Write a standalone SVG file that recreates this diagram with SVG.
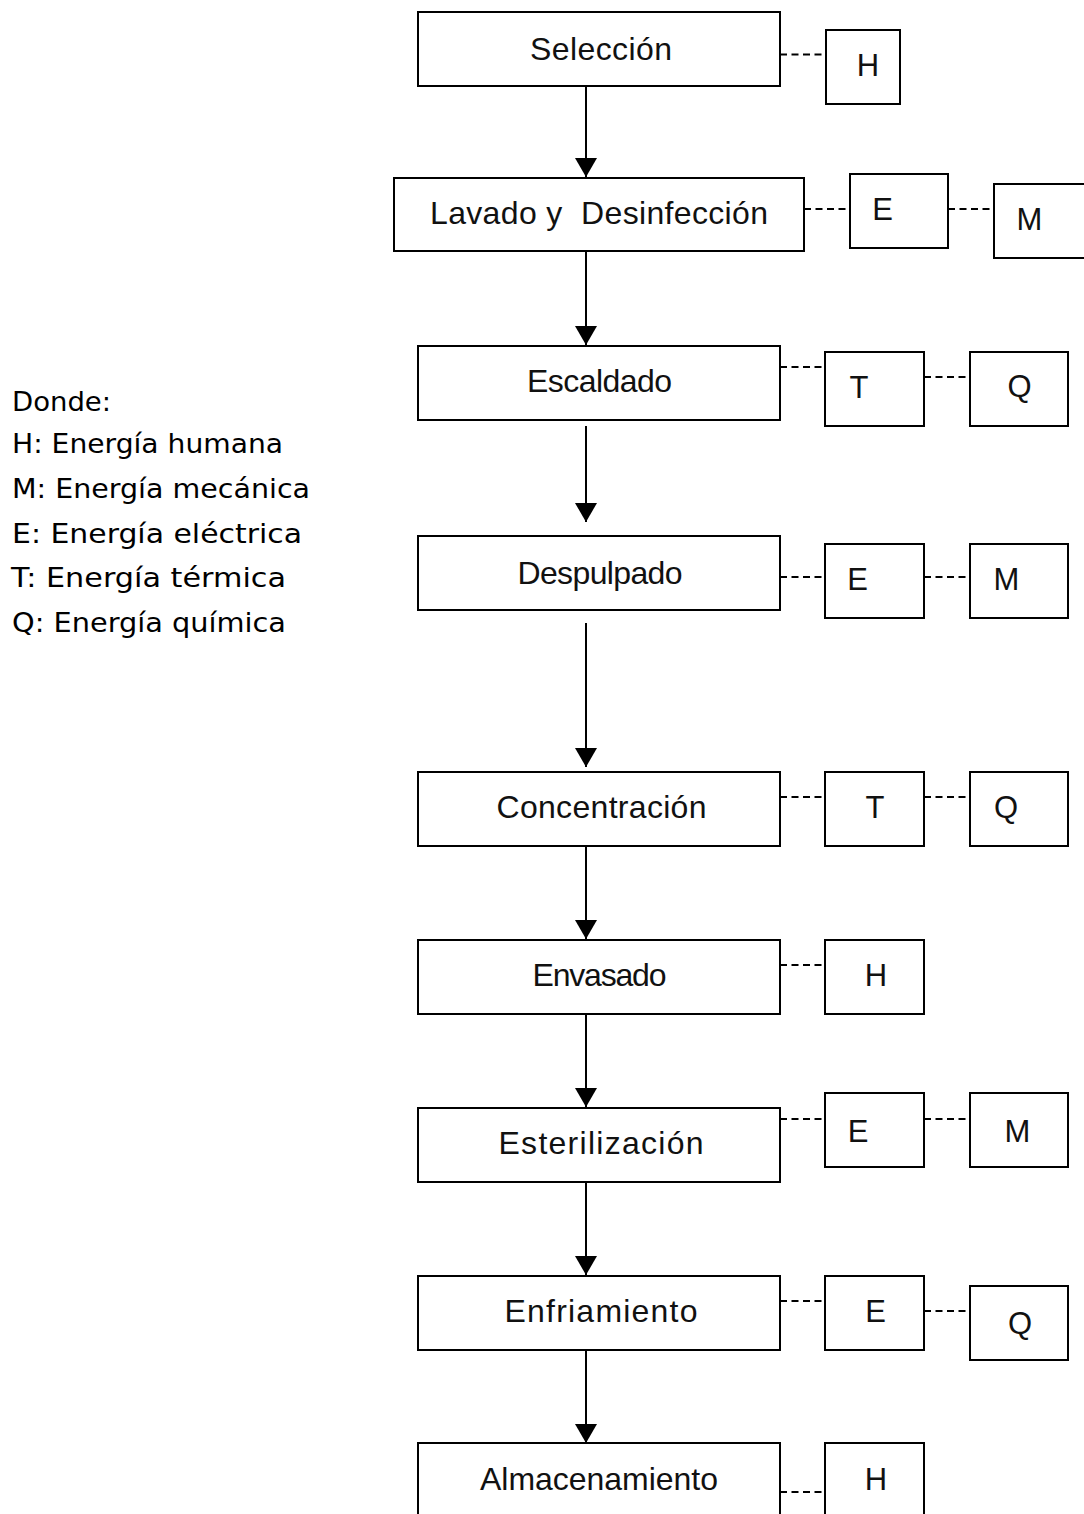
<svg xmlns="http://www.w3.org/2000/svg" width="1084" height="1514" viewBox="0 0 1084 1514">
  <style>
    .box { fill: #fff; stroke: #000; stroke-width: 2; }
    .step { font-family: "Liberation Sans", Arial, sans-serif; font-size: 32px; fill: #111; text-anchor: middle; }
    .tag { font-family: "Liberation Sans", Arial, sans-serif; font-size: 31px; fill: #111; text-anchor: middle; }
    .legend { font-family: "DejaVu Sans", "Liberation Sans", sans-serif; font-size: 26.5px; fill: #000; }
    .flow { stroke: #000; stroke-width: 2; fill: none; marker-end: url(#arrow); }
    .link { stroke: #000; stroke-width: 2; fill: none; stroke-dasharray: 7 4.5; }
  </style>
  <defs>
    <marker id="arrow" viewBox="0 0 19 22" markerUnits="userSpaceOnUse" markerWidth="19" markerHeight="22" refX="19" refY="11" orient="auto">
      <path d="M0,0 L19,11 L0,22 Z" fill="#000"/>
    </marker>
  </defs>
  <rect width="1084" height="1514" fill="#fff"/>

  <!-- legend -->
  <g id="legend">
    <text class="legend" x="12" y="411" textLength="99" lengthAdjust="spacingAndGlyphs">Donde:</text>
    <text class="legend" x="12" y="453" textLength="271" lengthAdjust="spacingAndGlyphs">H: Energía humana</text>
    <text class="legend" x="12" y="498" textLength="298" lengthAdjust="spacingAndGlyphs">M: Energía mecánica</text>
    <text class="legend" x="12" y="543" textLength="290" lengthAdjust="spacingAndGlyphs">E: Energía eléctrica</text>
    <text class="legend" x="11" y="587" textLength="275" lengthAdjust="spacingAndGlyphs">T: Energía térmica</text>
    <text class="legend" x="12" y="632" textLength="274" lengthAdjust="spacingAndGlyphs">Q: Energía química</text>
  </g>

  <!-- flow arrows and dashed energy links -->
  <g id="connectors">
    <line class="flow" x1="586" y1="86" x2="586" y2="177"/>
    <line class="flow" x1="586" y1="251" x2="586" y2="345"/>
    <line class="flow" x1="586" y1="426" x2="586" y2="522"/>
    <line class="flow" x1="586" y1="623" x2="586" y2="767"/>
    <line class="flow" x1="586" y1="846" x2="586" y2="939"/>
    <line class="flow" x1="586" y1="1014" x2="586" y2="1107"/>
    <line class="flow" x1="586" y1="1182" x2="586" y2="1275"/>
    <line class="flow" x1="586" y1="1350" x2="586" y2="1443"/>

    <line class="link" x1="780" y1="54.5" x2="826" y2="54.5"/>
    <line class="link" x1="804" y1="209" x2="850" y2="209"/>
    <line class="link" x1="948" y1="209" x2="994" y2="209"/>
    <line class="link" x1="780" y1="367" x2="825" y2="367"/>
    <line class="link" x1="924" y1="377" x2="970" y2="377"/>
    <line class="link" x1="780" y1="577" x2="825" y2="577"/>
    <line class="link" x1="924" y1="577" x2="970" y2="577"/>
    <line class="link" x1="780" y1="797" x2="825" y2="797"/>
    <line class="link" x1="924" y1="797" x2="970" y2="797"/>
    <line class="link" x1="780" y1="965" x2="825" y2="965"/>
    <line class="link" x1="780" y1="1119" x2="825" y2="1119"/>
    <line class="link" x1="924" y1="1119" x2="970" y2="1119"/>
    <line class="link" x1="780" y1="1301" x2="825" y2="1301"/>
    <line class="link" x1="924" y1="1311" x2="970" y2="1311"/>
    <line class="link" x1="780" y1="1492" x2="825" y2="1492"/>
  </g>

  <!-- process steps -->
  <g id="seleccion">
    <rect class="box" x="418" y="12" width="362" height="74"/>
    <text class="step" x="601" y="60" textLength="142">Selección</text>
  </g>
  <g id="lavado">
    <rect class="box" x="394" y="178" width="410" height="73"/>
    <text class="step" x="599" y="224" textLength="338" xml:space="preserve" style="white-space:pre">Lavado y  Desinfección</text>
  </g>
  <g id="escaldado">
    <rect class="box" x="418" y="346" width="362" height="74"/>
    <text class="step" x="599.5" y="392" textLength="145">Escaldado</text>
  </g>
  <g id="despulpado">
    <rect class="box" x="418" y="536" width="362" height="74"/>
    <text class="step" x="600" y="584" textLength="165">Despulpado</text>
  </g>
  <g id="concentracion">
    <rect class="box" x="418" y="772" width="362" height="74"/>
    <text class="step" x="601.5" y="818" textLength="210">Concentración</text>
  </g>
  <g id="envasado">
    <rect class="box" x="418" y="940" width="362" height="74"/>
    <text class="step" x="599.5" y="986" textLength="134">Envasado</text>
  </g>
  <g id="esterilizacion">
    <rect class="box" x="418" y="1108" width="362" height="74"/>
    <text class="step" x="601" y="1154" textLength="205">Esterilización</text>
  </g>
  <g id="enfriamiento">
    <rect class="box" x="418" y="1276" width="362" height="74"/>
    <text class="step" x="601" y="1322" textLength="193">Enfriamiento</text>
  </g>
  <g id="almacenamiento">
    <rect class="box" x="418" y="1443" width="362" height="90"/>
    <text class="step" x="599" y="1490" textLength="238">Almacenamiento</text>
  </g>

  <!-- energy tags -->
  <g id="seleccion-h">
    <rect class="box" x="826" y="30" width="74" height="74"/>
    <text class="tag" x="868" y="76">H</text>
  </g>
  <g id="lavado-e">
    <rect class="box" x="850" y="174" width="98" height="74"/>
    <text class="tag" x="882.5" y="219.5">E</text>
  </g>
  <g id="lavado-m">
    <rect class="box" x="994" y="184" width="100" height="74"/>
    <text class="tag" x="1029.5" y="229.5">M</text>
  </g>
  <g id="escaldado-t">
    <rect class="box" x="825" y="352" width="99" height="74"/>
    <text class="tag" x="859" y="398">T</text>
  </g>
  <g id="escaldado-q">
    <rect class="box" x="970" y="352" width="98" height="74"/>
    <text class="tag" x="1019.5" y="397">Q</text>
  </g>
  <g id="despulpado-e">
    <rect class="box" x="825" y="544" width="99" height="74"/>
    <text class="tag" x="857.5" y="590">E</text>
  </g>
  <g id="despulpado-m">
    <rect class="box" x="970" y="544" width="98" height="74"/>
    <text class="tag" x="1006.5" y="590">M</text>
  </g>
  <g id="concentracion-t">
    <rect class="box" x="825" y="772" width="99" height="74"/>
    <text class="tag" x="875" y="818">T</text>
  </g>
  <g id="concentracion-q">
    <rect class="box" x="970" y="772" width="98" height="74"/>
    <text class="tag" x="1006" y="818">Q</text>
  </g>
  <g id="envasado-h">
    <rect class="box" x="825" y="940" width="99" height="74"/>
    <text class="tag" x="876" y="986">H</text>
  </g>
  <g id="esterilizacion-e">
    <rect class="box" x="825" y="1093" width="99" height="74"/>
    <text class="tag" x="858" y="1142">E</text>
  </g>
  <g id="esterilizacion-m">
    <rect class="box" x="970" y="1093" width="98" height="74"/>
    <text class="tag" x="1017.5" y="1142">M</text>
  </g>
  <g id="enfriamiento-e">
    <rect class="box" x="825" y="1276" width="99" height="74"/>
    <text class="tag" x="875.5" y="1322">E</text>
  </g>
  <g id="enfriamiento-q">
    <rect class="box" x="970" y="1286" width="98" height="74"/>
    <text class="tag" x="1020" y="1334">Q</text>
  </g>
  <g id="almacenamiento-h">
    <rect class="box" x="825" y="1443" width="99" height="90"/>
    <text class="tag" x="876" y="1490">H</text>
  </g>
</svg>
